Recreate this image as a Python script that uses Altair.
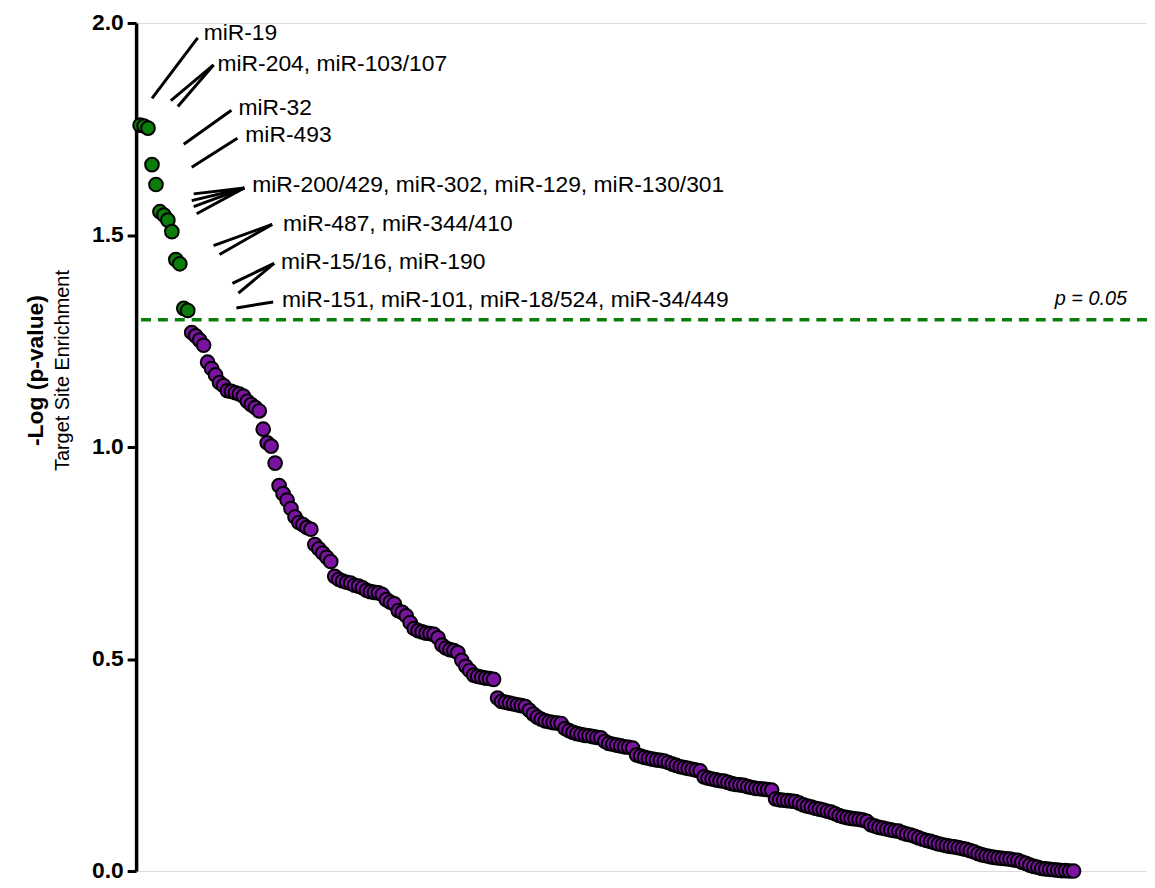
import altair as alt
import pandas as pd

# ---- data ----
green_values = [1.759, 1.757, 1.752, 1.666, 1.619, 1.555, 1.547, 1.535, 1.508,
                1.442, 1.432, 1.327, 1.322]

purple_values = [
    1.27, 1.262, 1.252, 1.24, 1.20, 1.185, 1.17, 1.152, 1.145, 1.133,
    1.131, 1.128, 1.125, 1.12, 1.108, 1.10, 1.093, 1.085, 1.042, 1.01,
    1.002, 0.962, 0.909, 0.89, 0.875, 0.855, 0.835, 0.822, 0.817, 0.81,
    0.806, 0.77, 0.76, 0.75, 0.74, 0.73, 0.695, 0.688, 0.684, 0.681,
    0.679, 0.674, 0.672, 0.668, 0.662, 0.659, 0.657, 0.656, 0.652, 0.64,
    0.634, 0.63, 0.614, 0.61, 0.602, 0.586, 0.572, 0.567, 0.564, 0.561,
    0.56, 0.558, 0.55, 0.533, 0.526, 0.522, 0.52, 0.515, 0.497, 0.483,
    0.473, 0.462, 0.459, 0.457, 0.455, 0.454, 0.452, 0.408, 0.40, 0.398,
    0.396, 0.394, 0.392, 0.39, 0.388, 0.379, 0.37, 0.363, 0.358, 0.354,
    0.352, 0.35, 0.349, 0.348, 0.336, 0.331, 0.327, 0.324, 0.322, 0.32,
    0.319, 0.317, 0.315, 0.314, 0.306, 0.301, 0.299, 0.297, 0.295, 0.293,
    0.292, 0.29, 0.274, 0.271, 0.268, 0.266, 0.264, 0.262, 0.261, 0.259,
    0.256, 0.252, 0.249, 0.246, 0.244, 0.242, 0.24, 0.238, 0.236, 0.222,
    0.219, 0.217, 0.215, 0.213, 0.212, 0.209, 0.206, 0.204, 0.203, 0.202,
    0.199, 0.197, 0.195, 0.194, 0.193, 0.192, 0.191, 0.17, 0.168, 0.167,
    0.166, 0.165, 0.164, 0.16, 0.156, 0.153, 0.151, 0.148, 0.146, 0.144,
    0.141, 0.139, 0.135, 0.131, 0.128, 0.126, 0.124, 0.123, 0.122, 0.12,
    0.117, 0.109, 0.106, 0.103, 0.101, 0.099, 0.097, 0.095, 0.094, 0.09,
    0.087, 0.085, 0.082, 0.078, 0.075, 0.072, 0.07, 0.067, 0.064, 0.062,
    0.06, 0.058, 0.057, 0.055, 0.053, 0.051, 0.048, 0.045, 0.041, 0.038,
    0.036, 0.034, 0.032, 0.031, 0.03, 0.029, 0.028, 0.026, 0.025, 0.021,
    0.018, 0.014, 0.011, 0.009, 0.006, 0.005, 0.004, 0.003, 0.002, 0.001,
    0.001, 0.0, 0.0,
]

label_texts = [
    "miR-19",
    "miR-204, miR-103/107",
    "miR-32",
    "miR-493",
    "miR-200/429, miR-302, miR-129, miR-130/301",
    "miR-487, miR-344/410",
    "miR-15/16, miR-190",
    "miR-151, miR-101, miR-18/524, miR-34/449",
]
label_rank = [16, 19.5, 24.75, 26.5, 28.25, 36, 35.5, 35.75]
label_value = [1.977, 1.902, 1.799, 1.735, 1.618, 1.525, 1.436, 1.347]

# leader lines (start rank, start value, end rank, end value)
lead_x1 = [3, 7.75, 9.5, 11, 13, 13.5, 13, 13.5, 14.25, 18.5, 20, 23.25, 24.75, 24.25]
lead_y1 = [1.822, 1.817, 1.803, 1.714, 1.660, 1.597, 1.581, 1.567, 1.550, 1.475, 1.454, 1.386, 1.363, 1.328]
lead_x2 = [14.5, 18.5, 18.5, 23, 24.5, 26.25, 26.25, 26.25, 26.25, 33.25, 33.25, 33.75, 33.75, 33.5]
lead_y2 = [1.965, 1.901, 1.901, 1.794, 1.728, 1.611, 1.611, 1.611, 1.611, 1.525, 1.525, 1.433, 1.433, 1.342]

threshold = 1.3
p_label = "p = 0.05"

GREEN = "#0b7d0b"
PURPLE = "#7a139f"
FONT = "Arial"

values = green_values + purple_values
df = pd.DataFrame({
    "rank": list(range(len(values))),
    "value": values,
    "group": ["sig"] * len(green_values) + ["ns"] * len(purple_values),
})

xscale = alt.Scale(domain=[-1, 253.5], nice=False, zero=False)
yscale = alt.Scale(domain=[0, 2], nice=False)

yaxis = alt.Axis(values=[0, 0.5, 1.0, 1.5, 2.0], format=".1f", title=None,
                 labelFont=FONT, labelFontSize=23, labelFontWeight="bold",
                 labelColor="black", labelPadding=4, tickSize=9, tickWidth=3,
                 tickColor="black", domainColor="black", domainWidth=3.5,
                 grid=False)

rule = alt.Chart(pd.DataFrame({"value": [threshold]})).mark_rule(
    color=GREEN, strokeWidth=3.5, strokeDash=[10, 7]
).encode(y=alt.Y("value:Q", scale=yscale, axis=yaxis))

points = alt.Chart(df).mark_point(
    shape="circle", filled=True, size=190, stroke="black", strokeWidth=2, opacity=1
).encode(
    x=alt.X("rank:Q", scale=xscale, axis=None),
    y=alt.Y("value:Q", scale=yscale, axis=yaxis),
    fill=alt.Fill("group:N", scale=alt.Scale(domain=["sig", "ns"], range=[GREEN, PURPLE]), legend=None),
)

leads = alt.Chart(pd.DataFrame({"rank": lead_x1, "value": lead_y1, "rank2": lead_x2, "value2": lead_y2})).mark_rule(
    color="black", strokeWidth=3
).encode(
    x=alt.X("rank:Q", scale=xscale, axis=None), y=alt.Y("value:Q", scale=yscale, axis=yaxis),
    x2="rank2:Q", y2="value2:Q",
)

labels = alt.Chart(pd.DataFrame({"rank": label_rank, "value": label_value, "text": label_texts})).mark_text(
    align="left", baseline="middle", font=FONT, fontSize=23, color="black"
).encode(
    x=alt.X("rank:Q", scale=xscale, axis=None), y=alt.Y("value:Q", scale=yscale, axis=yaxis), text="text:N"
)

plab = alt.Chart(pd.DataFrame({"rank": [248.5], "value": [1.349], "text": [p_label]})).mark_text(
    align="right", baseline="middle", font=FONT, fontSize=20, fontStyle="italic", color="black"
).encode(
    x=alt.X("rank:Q", scale=xscale, axis=None), y=alt.Y("value:Q", scale=yscale, axis=yaxis), text="text:N"
)

title1 = alt.Chart(pd.DataFrame({"t": ["-Log (p-value)"]})).mark_text(
    angle=270, align="center", baseline="middle", font=FONT, fontSize=23, fontWeight="bold", color="black"
).encode(x=alt.value(-101), y=alt.value(350), text="t:N")

title2 = alt.Chart(pd.DataFrame({"t": ["Target Site Enrichment"]})).mark_text(
    angle=270, align="center", baseline="middle", font=FONT, fontSize=20, color="black"
).encode(x=alt.value(-74), y=alt.value(350), text="t:N")

chart = alt.layer(rule, leads, points, labels, plab, title1, title2).properties(
    width=1018, height=854,
    autosize=alt.AutoSizeParams(type="none"),
    padding={"left": 129, "top": 12, "right": 0, "bottom": 14},
).configure_view(stroke=None).configure(background="white")

chart.save("out.html", embed_options={"renderer": "svg", "actions": False})
